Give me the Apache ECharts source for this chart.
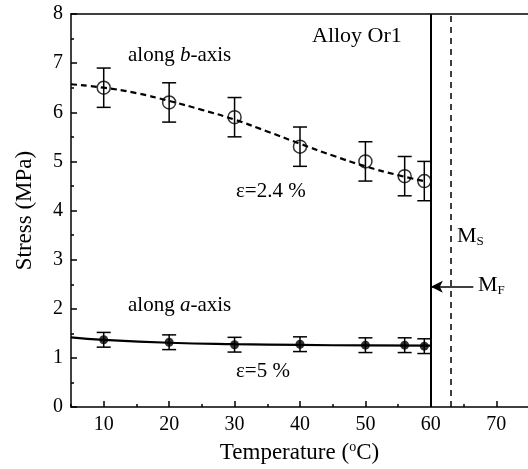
<!DOCTYPE html>
<html>
<head>
<meta charset="utf-8">
<script src="https://cdn.jsdelivr.net/npm/echarts@6/dist/echarts.min.js"></script>
<style>html,body{margin:0;padding:0;background:#fff}#c{width:528px;height:469px}</style>
</head>
<body>
<div id="c"></div>
<script>
// Data
var bTemp = [10, 20, 30, 40, 50, 56, 59];
var bStress = [6.5, 6.2, 5.9, 5.3, 5.0, 4.7, 4.6];
var bErr = [0.4, 0.4, 0.4, 0.4, 0.4, 0.4, 0.4];
var aTemp = [10, 20, 30, 40, 50, 56, 59];
var aStress = [1.37, 1.32, 1.27, 1.28, 1.26, 1.26, 1.24];
var aErr = [0.15, 0.15, 0.15, 0.15, 0.15, 0.15, 0.15];
var bFitX = [5, 10, 15, 20, 25, 30, 35, 40, 45, 50, 55, 59];
var bFitY = [6.57, 6.5, 6.39, 6.23, 6.05, 5.85, 5.61, 5.36, 5.12, 4.9, 4.72, 4.6];
var aFitX = [5, 10, 20, 30, 40, 50, 60];
var aFitY = [1.42, 1.37, 1.31, 1.28, 1.265, 1.255, 1.25];
var xMajorTicks = [10, 20, 30, 40, 50, 60, 70];
var xMinorTicks = [5, 15, 25, 35, 45, 55, 65];
var MfTemp = 60, MsTemp = 63;
var arrowY = 2.45, arrowFromX = 66.5;

var FONT = 'Liberation Serif';
var X_MIN = 5, X_MAX = 74.85;
function pairs(xs, ys) { return xs.map(function (x, i) { return [x, ys[i]]; }); }
function errData(xs, ys, es) { return xs.map(function (x, i) { return [x, ys[i] - es[i], ys[i] + es[i]]; }); }
function errRender(params, api) {
  var x = api.value(0);
  var lo = api.coord([x, api.value(1)]);
  var hi = api.coord([x, api.value(2)]);
  var hw = 7;
  var st = { stroke: '#000', lineWidth: 1.5 };
  return {
    type: 'group',
    children: [
      { type: 'line', shape: { x1: lo[0], y1: lo[1], x2: hi[0], y2: hi[1] }, style: st },
      { type: 'line', shape: { x1: lo[0] - hw, y1: lo[1], x2: lo[0] + hw, y2: lo[1] }, style: st },
      { type: 'line', shape: { x1: hi[0] - hw, y1: hi[1], x2: hi[0] + hw, y2: hi[1] }, style: st }
    ]
  };
}

var chart = echarts.init(document.getElementById('c'), null, { renderer: 'canvas' });
var axisLineStyle = { color: '#000', width: 1.5 };
chart.setOption({
  animation: false,
  backgroundColor: '#fff',
  grid: { left: 71, top: 14, right: 0, bottom: 61, show: false },
  xAxis: [{
    type: 'value', min: X_MIN, max: X_MAX,
    axisLine: { show: true, onZero: false, lineStyle: axisLineStyle },
    axisTick: { show: true, inside: true, length: 6, lineStyle: axisLineStyle, customValues: xMajorTicks },
    axisLabel: { customValues: xMajorTicks, color: '#000', fontFamily: FONT, fontSize: 20, margin: 8 },
    splitLine: { show: false },
    name: 'Temperature ({sup|o}C)', nameLocation: 'middle', nameGap: 29,
    nameTextStyle: { color: '#000', fontFamily: FONT, fontSize: 23, rich: { sup: { fontSize: 14, verticalAlign: 'top', padding: [0, 0, 11, 0], fontFamily: FONT, color: '#000' } } }
  }, {
    type: 'value', min: X_MIN, max: X_MAX, position: 'bottom',
    axisLine: { show: false },
    axisTick: { show: true, inside: true, length: 3, lineStyle: axisLineStyle, customValues: xMinorTicks },
    axisLabel: { show: false },
    splitLine: { show: false }
  }, {
    type: 'value', min: X_MIN, max: X_MAX, position: 'top',
    axisLine: { show: true, onZero: false, lineStyle: axisLineStyle },
    axisTick: { show: false },
    axisLabel: { show: false },
    splitLine: { show: false }
  }],
  yAxis: {
    type: 'value', min: 0, max: 8, interval: 1,
    axisLine: { show: true, onZero: false, lineStyle: axisLineStyle },
    axisTick: { show: true, inside: true, length: 6, lineStyle: axisLineStyle },
    minorTick: { show: true, splitNumber: 2, length: 3, lineStyle: axisLineStyle },
    axisLabel: { color: '#000', fontFamily: FONT, fontSize: 20, margin: 8 },
    splitLine: { show: false },
    name: 'Stress (MPa)', nameLocation: 'middle', nameGap: 35,
    nameTextStyle: { color: '#000', fontFamily: FONT, fontSize: 23 }
  },
  series: [
    {
      type: 'line', data: pairs(bFitX, bFitY), smooth: true, showSymbol: false, silent: true,
      lineStyle: { color: '#000', width: 2.2, type: [6, 4] }, z: 2,
      markLine: {
        silent: true, symbol: 'none', label: { show: false },
        data: [
          [{ coord: [MfTemp, 0], lineStyle: { color: '#000', width: 2, type: 'solid' } }, { coord: [MfTemp, 8] }],
          [{ coord: [MsTemp, 0], lineStyle: { color: '#000', width: 1.5, type: [6, 5] } }, { coord: [MsTemp, 8] }],
          [{ coord: [arrowFromX, arrowY], symbol: 'none', lineStyle: { color: '#000', width: 1.5, type: 'solid' } },
           { coord: [MfTemp, arrowY], symbol: 'arrow', symbolSize: [9, 12] }]
        ]
      }
    },
    {
      type: 'line', data: pairs(aFitX, aFitY), smooth: true, showSymbol: false, silent: true,
      lineStyle: { color: '#000', width: 2.2 }, z: 2
    },
    { type: 'custom', renderItem: errRender, data: errData(bTemp, bStress, bErr), z: 3, silent: true },
    { type: 'custom', renderItem: errRender, data: errData(aTemp, aStress, aErr), z: 3, silent: true },
    {
      type: 'scatter', data: pairs(bTemp, bStress), symbol: 'circle', symbolSize: 13,
      itemStyle: { color: 'rgba(255,255,255,0)', borderColor: '#000', borderWidth: 1.5 }, z: 4
    },
    {
      type: 'scatter', data: pairs(aTemp, aStress), symbol: 'circle', symbolSize: 9,
      itemStyle: { color: '#000' }, z: 4
    }
  ],
  graphic: [
    { type: 'text', left: 312, top: 25, style: { text: 'Alloy Or1', font: '22px "' + FONT + '"', fill: '#000' } },
    { type: 'text', left: 128, top: 45, style: { text: 'along {i|b}-axis', font: '21px "' + FONT + '"', fill: '#000', rich: { i: { fontStyle: 'italic', fontFamily: FONT, fontSize: 21 } } } },
    { type: 'text', left: 236, top: 181, style: { text: 'ε=2.4 %', font: '21px "' + FONT + '"', fill: '#000' } },
    { type: 'text', left: 128, top: 295, style: { text: 'along {i|a}-axis', font: '21px "' + FONT + '"', fill: '#000', rich: { i: { fontStyle: 'italic', fontFamily: FONT, fontSize: 21 } } } },
    { type: 'text', left: 236, top: 361, style: { text: 'ε=5 %', font: '21px "' + FONT + '"', fill: '#000' } },
    { type: 'text', left: 457, top: 225, style: { text: 'M{s|S}', font: '22px "' + FONT + '"', fill: '#000', rich: { s: { fontSize: 13, fontFamily: FONT, padding: [11, 0, 0, 0] } } } },
    { type: 'text', left: 478, top: 274, style: { text: 'M{s|F}', font: '22px "' + FONT + '"', fill: '#000', rich: { s: { fontSize: 13, fontFamily: FONT, padding: [11, 0, 0, 0] } } } }
  ]
});
</script>
</body>
</html>
